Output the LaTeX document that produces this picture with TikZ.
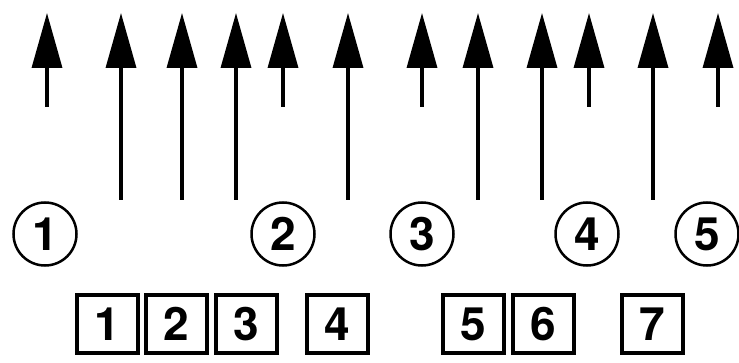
\documentclass[tikz,border=0pt]{standalone}
\usepackage{fontspec}
\setmainfont{TeX Gyre Heros}
\usetikzlibrary{arrows.meta}

\tikzset{
  ring/.style={draw, circle, line width=2.5pt, minimum size=63pt, inner sep=0pt, font=\fontsize{46}{46}\selectfont\bfseries},
  tag/.style={draw, rectangle, line width=4pt, minimum width=61pt, minimum height=58pt, inner sep=0pt, font=\fontsize{46}{46}\selectfont\bfseries},
  up/.style={line width=3.5pt, -{Triangle[length=55pt,width=30pt]}}
}

\begin{document}
\begin{tikzpicture}[x=1pt, y=-1pt]
\useasboundingbox (0,0) rectangle (739,363);
\foreach \n/\px/\py in {1/47/107, 2/121/200, 3/182/200, 4/236/200, 5/283/107, 6/348/200,
                        7/422/107, 8/478/200, 9/542/200, 10/589/107, 11/653/200, 12/718/107} {
\coordinate (foot\n) at (\px,\py);
\coordinate (tip\n) at (\px,13);
\draw[up] (foot\n) -- (tip\n);
}
\foreach \n/\px in {1/45, 2/283, 3/422, 4/587, 5/707} {
\node[ring] (c\n) at (\px,234) {\n};
}
\foreach \n/\px in {1/107, 2/176, 3/246, 4/337, 5/473, 6/543, 7/652} {
\node[tag] (k\n) at (\px,324) {\n};
}
\end{tikzpicture}
\end{document}
